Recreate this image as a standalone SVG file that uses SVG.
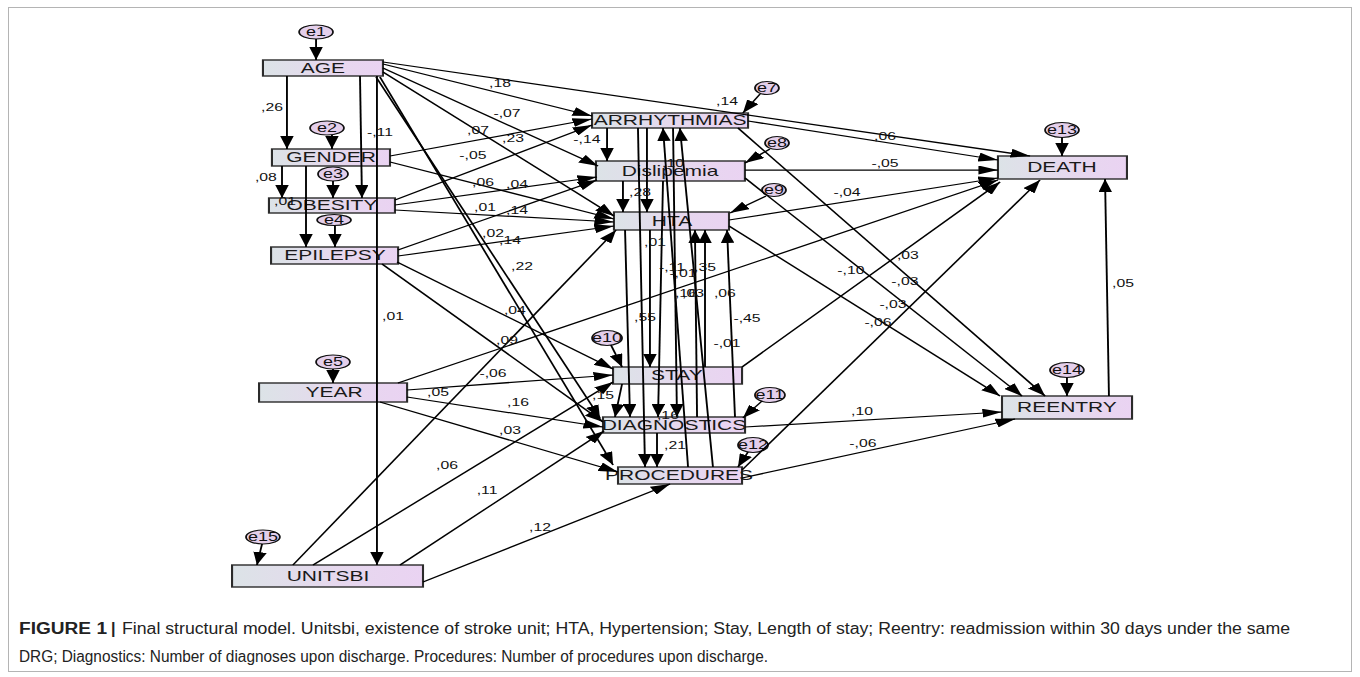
<svg xmlns="http://www.w3.org/2000/svg" width="1360" height="677" viewBox="0 0 1360 677">
<defs>
<linearGradient id="bx" x1="0" y1="0" x2="1" y2="0">
<stop offset="0" stop-color="#dce3e7"/>
<stop offset="0.55" stop-color="#e6d8ee"/>
<stop offset="1" stop-color="#ead3f2"/>
</linearGradient>
<marker id="ah" viewBox="0 0 13 9" refX="13" refY="4.5" markerWidth="13" markerHeight="9" markerUnits="userSpaceOnUse" orient="auto">
<path d="M0,0L13,4.5L0,9z" fill="#000"/>
</marker>
<style>
.bx{fill:url(#bx);stroke:#2b2b2b;stroke-width:1.4}
.el{fill:#e4cfeb;stroke:#111;stroke-width:1.2}
.nt{font-family:"Liberation Sans",Arial,sans-serif;font-size:14px;fill:#1a1a1a;text-anchor:middle}
.et{font-family:"Liberation Sans",Arial,sans-serif;font-size:12px;fill:#111;text-anchor:middle}
.lb{font-family:"Liberation Sans",Arial,sans-serif;font-size:10.5px;fill:#111;text-anchor:middle}
#conn line{stroke:#000;stroke-width:1.25;fill:none;marker-end:url(#ah)}
.cap{font-family:"Liberation Sans Narrow","Liberation Sans",Arial,sans-serif;font-size:16px;fill:#222}
</style>
</defs>
<rect x="0" y="0" width="1360" height="677" fill="#fff"/>
<rect x="8.5" y="7.5" width="1343" height="664" fill="none" stroke="#b4b4b4" stroke-width="1"/>
<g transform="scale(1.5 1)">
<g id="nodes">
<g id="AGE"><rect class="bx" x="175.3" y="60" width="80" height="16"/><text class="nt" x="215.3" y="73">AGE</text></g>
<g id="GENDER"><rect class="bx" x="181.3" y="149" width="78.7" height="17"/><text class="nt" x="220.7" y="162">GENDER</text></g>
<g id="OBESITY"><rect class="bx" x="179.3" y="198" width="84" height="15"/><text class="nt" x="221.3" y="210.5">OBESITY</text></g>
<g id="EPILEPSY"><rect class="bx" x="180.7" y="247" width="84.7" height="17"/><text class="nt" x="223.3" y="260.5">EPILEPSY</text></g>
<g id="YEAR"><rect class="bx" x="172.7" y="383" width="98.7" height="19"/><text class="nt" x="222.7" y="397.5">YEAR</text></g>
<g id="UNITSBI"><rect class="bx" x="154.7" y="565" width="127.3" height="22"/><text class="nt" x="218.7" y="581">UNITSBI</text></g>
<g id="ARRHYTHMIAS"><rect class="bx" x="394.7" y="113" width="104" height="15"/><text class="nt" x="446.7" y="125.5">ARRHYTHMIAS</text></g>
<g id="Dislipemia"><rect class="bx" x="397.3" y="161" width="99.3" height="20"/><text class="nt" x="446.7" y="176">Dislipemia</text></g>
<g id="HTA"><rect class="bx" x="409.3" y="212" width="76.7" height="18"/><text class="nt" x="448" y="226">HTA</text></g>
<g id="STAY"><rect class="bx" x="408.7" y="367" width="86" height="17"/><text class="nt" x="451.3" y="380.5">STAY</text></g>
<g id="DIAGNOSTICS"><rect class="bx" x="402" y="417" width="94.7" height="16"/><text class="nt" x="449.3" y="430">DIAGNOSTICS</text></g>
<g id="PROCEDURES"><rect class="bx" x="412" y="467" width="82.7" height="17"/><text class="nt" x="452.7" y="480.5">PROCEDURES</text></g>
<g id="DEATH"><rect class="bx" x="665.3" y="156" width="86" height="23"/><text class="nt" x="708" y="172.5">DEATH</text></g>
<g id="REENTRY"><rect class="bx" x="668" y="396" width="86.7" height="23"/><text class="nt" x="711.3" y="412.5">REENTRY</text></g>
<g id="e1"><ellipse class="el" cx="210.7" cy="32" rx="11.3" ry="7"/><text class="et" x="210.7" y="36.5">e1</text></g>
<g id="e2"><ellipse class="el" cx="218" cy="128" rx="11.3" ry="7"/><text class="et" x="218" y="132.5">e2</text></g>
<g id="e3"><ellipse class="el" cx="222" cy="174" rx="10" ry="7"/><text class="et" x="222" y="178.5">e3</text></g>
<g id="e4"><ellipse class="el" cx="222.7" cy="220" rx="11.3" ry="5.5"/><text class="et" x="222.7" y="224.5">e4</text></g>
<g id="e5"><ellipse class="el" cx="222" cy="362" rx="11.3" ry="7"/><text class="et" x="222" y="366.5">e5</text></g>
<g id="e7"><ellipse class="el" cx="511.3" cy="88" rx="8" ry="6.5"/><text class="et" x="511.3" y="92.5">e7</text></g>
<g id="e8"><ellipse class="el" cx="518" cy="143" rx="8" ry="6.5"/><text class="et" x="518" y="147.5">e8</text></g>
<g id="e9"><ellipse class="el" cx="516" cy="190" rx="8" ry="6.5"/><text class="et" x="516" y="194.5">e9</text></g>
<g id="e10"><ellipse class="el" cx="404.7" cy="338" rx="10" ry="7.5"/><text class="et" x="404.7" y="342.5">e10</text></g>
<g id="e11"><ellipse class="el" cx="513.3" cy="395" rx="10" ry="7.5"/><text class="et" x="513.3" y="399.5">e11</text></g>
<g id="e12"><ellipse class="el" cx="502" cy="445" rx="10" ry="7.5"/><text class="et" x="502" y="449.5">e12</text></g>
<g id="e13"><ellipse class="el" cx="708" cy="130" rx="11.3" ry="7.5"/><text class="et" x="708" y="134.5">e13</text></g>
<g id="e14"><ellipse class="el" cx="711.3" cy="370" rx="11.3" ry="7.5"/><text class="et" x="711.3" y="374.5">e14</text></g>
<g id="e15"><ellipse class="el" cx="175.3" cy="537" rx="11.3" ry="7"/><text class="et" x="175.3" y="541.5">e15</text></g>
</g>
<g id="conn">
<line x1="210.7" y1="39" x2="210.7" y2="60"/>
<line x1="191.3" y1="76" x2="191.3" y2="149"/>
<line x1="221.3" y1="135" x2="221.3" y2="149"/>
<line x1="240" y1="76" x2="241.3" y2="198"/>
<line x1="188" y1="166" x2="188" y2="198"/>
<line x1="222" y1="181" x2="222" y2="198"/>
<line x1="204" y1="166" x2="204" y2="247"/>
<line x1="223.3" y1="225.5" x2="223.3" y2="247"/>
<line x1="251.3" y1="76" x2="251.3" y2="565"/>
<line x1="222" y1="369" x2="222" y2="383"/>
<line x1="174.7" y1="544" x2="171.3" y2="565"/>
<line x1="255.3" y1="62" x2="686.7" y2="156"/>
<line x1="255.3" y1="64" x2="394.7" y2="116"/>
<line x1="255.3" y1="68" x2="398.7" y2="166"/>
<line x1="255.3" y1="72" x2="409.3" y2="216"/>
<line x1="250.7" y1="77" x2="400" y2="418"/>
<line x1="253.3" y1="77" x2="408.7" y2="465"/>
<line x1="260" y1="156" x2="394.7" y2="119"/>
<line x1="260" y1="162" x2="409.3" y2="219"/>
<line x1="263.3" y1="200" x2="394.7" y2="125"/>
<line x1="263.3" y1="205" x2="398" y2="177"/>
<line x1="263.3" y1="210" x2="409.3" y2="222"/>
<line x1="265.3" y1="250" x2="398" y2="180"/>
<line x1="265.3" y1="256" x2="409.3" y2="226"/>
<line x1="264.7" y1="262" x2="408.7" y2="369"/>
<line x1="254.7" y1="264" x2="402" y2="422"/>
<line x1="265.3" y1="383" x2="665.3" y2="180"/>
<line x1="271.3" y1="390" x2="408.7" y2="375"/>
<line x1="271.3" y1="397" x2="402" y2="427"/>
<line x1="253.3" y1="402" x2="412" y2="472"/>
<line x1="195.3" y1="565" x2="410.7" y2="230"/>
<line x1="208.7" y1="565" x2="408.7" y2="382"/>
<line x1="266.7" y1="565" x2="402.7" y2="431"/>
<line x1="282" y1="582" x2="446.7" y2="484"/>
<line x1="404.7" y1="128" x2="404.7" y2="161"/>
<line x1="415.3" y1="181" x2="415.3" y2="212"/>
<line x1="431.3" y1="128" x2="431.3" y2="212"/>
<line x1="416.7" y1="230" x2="420" y2="417"/>
<line x1="433.3" y1="230" x2="433.3" y2="367"/>
<line x1="425.3" y1="128" x2="430" y2="467"/>
<line x1="414.7" y1="384" x2="410" y2="417"/>
<line x1="442" y1="181" x2="438.7" y2="417"/>
<line x1="448.7" y1="128" x2="451.3" y2="417"/>
<line x1="438" y1="433" x2="438" y2="467"/>
<line x1="458.7" y1="467" x2="442" y2="128"/>
<line x1="475.3" y1="467" x2="453.3" y2="128"/>
<line x1="464.7" y1="417" x2="463.3" y2="230"/>
<line x1="470" y1="367" x2="470" y2="230"/>
<line x1="490" y1="417" x2="484.7" y2="230"/>
<line x1="498.7" y1="121" x2="665.3" y2="160"/>
<line x1="496.7" y1="170" x2="665.3" y2="170"/>
<line x1="486" y1="220" x2="665.3" y2="178"/>
<line x1="494.7" y1="367" x2="666.7" y2="182"/>
<line x1="494.7" y1="470" x2="693.3" y2="180"/>
<line x1="492" y1="128" x2="696.7" y2="396"/>
<line x1="496.7" y1="178" x2="681.3" y2="396"/>
<line x1="486" y1="226" x2="666.7" y2="396"/>
<line x1="496.7" y1="427" x2="668" y2="412"/>
<line x1="494.7" y1="478" x2="676.7" y2="419"/>
<line x1="739.3" y1="396" x2="736.7" y2="179"/>
<line x1="708" y1="137.5" x2="708" y2="156"/>
<line x1="711.3" y1="377.5" x2="711.3" y2="396"/>
<line x1="506.7" y1="94" x2="495.3" y2="113"/>
<line x1="513.3" y1="149" x2="496.7" y2="163"/>
<line x1="510.7" y1="196" x2="486.7" y2="213"/>
<line x1="407.3" y1="345" x2="414.7" y2="367"/>
<line x1="508" y1="401" x2="495.3" y2="418"/>
<line x1="498.7" y1="452" x2="492" y2="467"/>
</g>
<g id="labels">
<text class="lb" x="181.3" y="111">,26</text>
<text class="lb" x="253.3" y="136">-,11</text>
<text class="lb" x="177.3" y="181">,08</text>
<text class="lb" x="190" y="205">,01</text>
<text class="lb" x="262" y="320">,01</text>
<text class="lb" x="333.3" y="87">,18</text>
<text class="lb" x="338" y="117">-,07</text>
<text class="lb" x="318.7" y="134">,07</text>
<text class="lb" x="342" y="142">,23</text>
<text class="lb" x="315.3" y="159">-,05</text>
<text class="lb" x="322" y="186">,06</text>
<text class="lb" x="344.7" y="188">,04</text>
<text class="lb" x="323.3" y="211">,01</text>
<text class="lb" x="344.7" y="214">,14</text>
<text class="lb" x="328.7" y="237">,02</text>
<text class="lb" x="340" y="244">,14</text>
<text class="lb" x="348" y="270">,22</text>
<text class="lb" x="343.3" y="314">,04</text>
<text class="lb" x="338" y="344">,09</text>
<text class="lb" x="328.7" y="377">-,06</text>
<text class="lb" x="292" y="396">,05</text>
<text class="lb" x="345.3" y="406">,16</text>
<text class="lb" x="340" y="434">,03</text>
<text class="lb" x="298" y="469">,06</text>
<text class="lb" x="324.7" y="494">,11</text>
<text class="lb" x="360" y="531">,12</text>
<text class="lb" x="484.7" y="105">,14</text>
<text class="lb" x="391.3" y="143">-,14</text>
<text class="lb" x="448.7" y="167">,10</text>
<text class="lb" x="426.7" y="196">,28</text>
<text class="lb" x="436.7" y="246">,01</text>
<text class="lb" x="448" y="271">-,11</text>
<text class="lb" x="470" y="271">,35</text>
<text class="lb" x="455.3" y="277">-,01</text>
<text class="lb" x="457.3" y="297">,16</text>
<text class="lb" x="462" y="297">,03</text>
<text class="lb" x="483.3" y="297">,06</text>
<text class="lb" x="430" y="321">,55</text>
<text class="lb" x="498" y="322">-,45</text>
<text class="lb" x="484.7" y="347">-,01</text>
<text class="lb" x="402" y="399">,15</text>
<text class="lb" x="445.3" y="419">,16</text>
<text class="lb" x="450" y="449">,21</text>
<text class="lb" x="590" y="140">,06</text>
<text class="lb" x="590" y="167">-,05</text>
<text class="lb" x="564.7" y="196">-,04</text>
<text class="lb" x="605.3" y="259">,03</text>
<text class="lb" x="567.3" y="274">-,10</text>
<text class="lb" x="603.3" y="285">-,03</text>
<text class="lb" x="595.3" y="308">-,03</text>
<text class="lb" x="585.3" y="326">-,06</text>
<text class="lb" x="748.7" y="287">,05</text>
<text class="lb" x="574.7" y="415">,10</text>
<text class="lb" x="575.3" y="447">-,06</text>
</g>
</g>
<g id="caption">
<text class="cap" x="19" y="634" font-weight="bold" textLength="88" lengthAdjust="spacingAndGlyphs">FIGURE 1</text>
<text class="cap" x="111" y="634" font-weight="bold">|</text>
<text class="cap" x="122" y="634" textLength="1168" lengthAdjust="spacingAndGlyphs">Final structural model. Unitsbi, existence of stroke unit; HTA, Hypertension; Stay, Length of stay; Reentry: readmission within 30 days under the same</text>
<text class="cap" x="19" y="662" textLength="749" lengthAdjust="spacingAndGlyphs">DRG; Diagnostics: Number of diagnoses upon discharge. Procedures: Number of procedures upon discharge.</text>
</g>
</svg>
